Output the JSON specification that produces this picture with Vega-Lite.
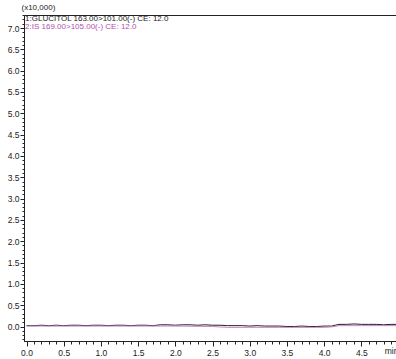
{
  "$schema": "https://vega.github.io/schema/vega-lite/v6.json",
  "width": 372,
  "height": 326,
  "autosize": {"type": "none"},
  "padding": {"left": 24, "top": 15, "right": 0, "bottom": 18},
  "background": "white",
  "config": {
    "view": {"stroke": "#222", "strokeWidth": 1},
    "font": "Liberation Sans",
    "axis": {"labelFont": "Liberation Sans", "titleFont": "Liberation Sans", "labelFontSize": 8.5, "labelColor": "#222", "tickColor": "#222", "domainColor": "#222", "grid": false}
  },
  "datasets": {
    "traces": [
      {"t": 0.0, "v": 0.02, "s": "1"}, {"t": 0.1, "v": 0.02, "s": "1"}, {"t": 0.2, "v": 0.03, "s": "1"}, {"t": 0.3, "v": 0.02, "s": "1"}, {"t": 0.4, "v": 0.03, "s": "1"},
      {"t": 0.5, "v": 0.02, "s": "1"}, {"t": 0.6, "v": 0.03, "s": "1"}, {"t": 0.7, "v": 0.03, "s": "1"}, {"t": 0.8, "v": 0.02, "s": "1"}, {"t": 0.9, "v": 0.03, "s": "1"},
      {"t": 1.0, "v": 0.03, "s": "1"}, {"t": 1.1, "v": 0.02, "s": "1"}, {"t": 1.2, "v": 0.03, "s": "1"}, {"t": 1.3, "v": 0.03, "s": "1"}, {"t": 1.4, "v": 0.02, "s": "1"},
      {"t": 1.5, "v": 0.03, "s": "1"}, {"t": 1.6, "v": 0.03, "s": "1"}, {"t": 1.7, "v": 0.02, "s": "1"}, {"t": 1.8, "v": 0.04, "s": "1"}, {"t": 1.9, "v": 0.04, "s": "1"},
      {"t": 2.0, "v": 0.03, "s": "1"}, {"t": 2.1, "v": 0.04, "s": "1"}, {"t": 2.2, "v": 0.04, "s": "1"}, {"t": 2.3, "v": 0.03, "s": "1"}, {"t": 2.4, "v": 0.04, "s": "1"},
      {"t": 2.5, "v": 0.03, "s": "1"}, {"t": 2.6, "v": 0.03, "s": "1"}, {"t": 2.7, "v": 0.02, "s": "1"}, {"t": 2.8, "v": 0.02, "s": "1"}, {"t": 2.9, "v": 0.02, "s": "1"},
      {"t": 3.0, "v": 0.01, "s": "1"}, {"t": 3.1, "v": 0.02, "s": "1"}, {"t": 3.2, "v": 0.01, "s": "1"}, {"t": 3.3, "v": 0.01, "s": "1"}, {"t": 3.4, "v": 0.01, "s": "1"},
      {"t": 3.5, "v": 0.0, "s": "1"}, {"t": 3.6, "v": 0.0, "s": "1"}, {"t": 3.7, "v": 0.01, "s": "1"}, {"t": 3.8, "v": 0.0, "s": "1"}, {"t": 3.9, "v": 0.0, "s": "1"},
      {"t": 4.0, "v": 0.01, "s": "1"}, {"t": 4.1, "v": 0.01, "s": "1"}, {"t": 4.2, "v": 0.05, "s": "1"}, {"t": 4.3, "v": 0.05, "s": "1"}, {"t": 4.4, "v": 0.06, "s": "1"},
      {"t": 4.5, "v": 0.05, "s": "1"}, {"t": 4.6, "v": 0.05, "s": "1"}, {"t": 4.7, "v": 0.05, "s": "1"}, {"t": 4.8, "v": 0.04, "s": "1"}, {"t": 4.9, "v": 0.05, "s": "1"}, {"t": 4.97, "v": 0.05, "s": "1"},
      {"t": 0.0, "v": 0.01, "s": "2"}, {"t": 0.5, "v": 0.01, "s": "2"}, {"t": 1.0, "v": 0.01, "s": "2"}, {"t": 1.5, "v": 0.01, "s": "2"}, {"t": 2.0, "v": 0.01, "s": "2"},
      {"t": 2.5, "v": 0.0, "s": "2"}, {"t": 2.7, "v": -0.02, "s": "2"}, {"t": 3.0, "v": -0.02, "s": "2"}, {"t": 3.5, "v": -0.02, "s": "2"}, {"t": 4.0, "v": -0.02, "s": "2"},
      {"t": 4.1, "v": -0.01, "s": "2"}, {"t": 4.2, "v": 0.02, "s": "2"}, {"t": 4.5, "v": 0.02, "s": "2"}, {"t": 4.97, "v": 0.02, "s": "2"}
    ],
    "labels": [
      {"t": -0.02, "v": 7.215, "s": "1", "label": "1:GLUCITOL 163.00>101.00(-) CE: 12.0"},
      {"t": -0.02, "v": 7.02, "s": "2", "label": "2:IS 169.00>105.00(-) CE: 12.0"}
    ]
  },
  "encoding": {
    "x": {
      "field": "t", "type": "quantitative",
      "scale": {"domain": [-0.034, 4.966], "nice": false, "zero": false},
      "axis": {
        "title": null,
        "values": [0,0.1,0.2,0.3,0.4,0.5,0.6,0.7,0.8,0.9,1,1.1,1.2,1.3,1.4,1.5,1.6,1.7,1.8,1.9,2,2.1,2.2,2.3,2.4,2.5,2.6,2.7,2.8,2.9,3,3.1,3.2,3.3,3.4,3.5,3.6,3.7,3.8,3.9,4,4.1,4.2,4.3,4.4,4.5,4.6,4.7,4.8,4.9],
        "labelExpr": "abs(datum.value - 4.9) < 0.001 ? 'min' : (abs(datum.value*2 - round(datum.value*2)) < 0.001 ? format(datum.value, '.1f') : '')",
        "labelOverlap": false,
        "labelFlush": false,
        "labelPadding": 2,
        "tickSize": {"condition": {"test": "abs(datum.value*2 - round(datum.value*2)) < 0.001", "value": 5}, "value": 3}
      }
    },
    "y": {
      "field": "v", "type": "quantitative",
      "scale": {"domain": [-0.34, 7.305], "nice": false, "zero": false},
      "axis": {
        "title": "(x10,000)",
        "titleAngle": 0,
        "titleAlign": "left",
        "titleBaseline": "alphabetic",
        "titleX": -3,
        "titleY": -6,
        "titleFontSize": 8,
        "titleFontWeight": "normal",
        "titleColor": "#222",
        "values": [-0.3,-0.2,-0.1,0,0.1,0.2,0.3,0.4,0.5,0.6,0.7,0.8,0.9,1,1.1,1.2,1.3,1.4,1.5,1.6,1.7,1.8,1.9,2,2.1,2.2,2.3,2.4,2.5,2.6,2.7,2.8,2.9,3,3.1,3.2,3.3,3.4,3.5,3.6,3.7,3.8,3.9,4,4.1,4.2,4.3,4.4,4.5,4.6,4.7,4.8,4.9,5,5.1,5.2,5.3,5.4,5.5,5.6,5.7,5.8,5.9,6,6.1,6.2,6.3,6.4,6.5,6.6,6.7,6.8,6.9,7,7.1,7.2,7.3],
        "labelExpr": "abs(datum.value*2 - round(datum.value*2)) < 0.001 ? format(datum.value, '.1f') : ''",
        "labelOverlap": false,
        "labelFlush": false,
        "labelPadding": 1,
        "tickSize": {"condition": {"test": "abs(datum.value*2 - round(datum.value*2)) < 0.001", "value": 4}, "value": 2}
      }
    }
  },
  "layer": [
    {
      "data": {"name": "traces"},
      "mark": {"type": "line", "strokeWidth": 1, "clip": true},
      "encoding": {
        "color": {
          "field": "s", "type": "nominal",
          "scale": {"domain": ["1", "2"], "range": ["#222222", "#c784c7"]},
          "legend": null
        }
      }
    },
    {
      "data": {"name": "labels"},
      "mark": {"type": "text", "align": "left", "baseline": "middle", "fontSize": 8, "font": "Liberation Sans"},
      "encoding": {
        "text": {"field": "label"},
        "color": {
          "field": "s", "type": "nominal",
          "scale": {"domain": ["1", "2"], "range": ["#222222", "#b050b0"]},
          "legend": null
        }
      }
    }
  ],
  "resolve": {"scale": {"color": "independent"}}
}
